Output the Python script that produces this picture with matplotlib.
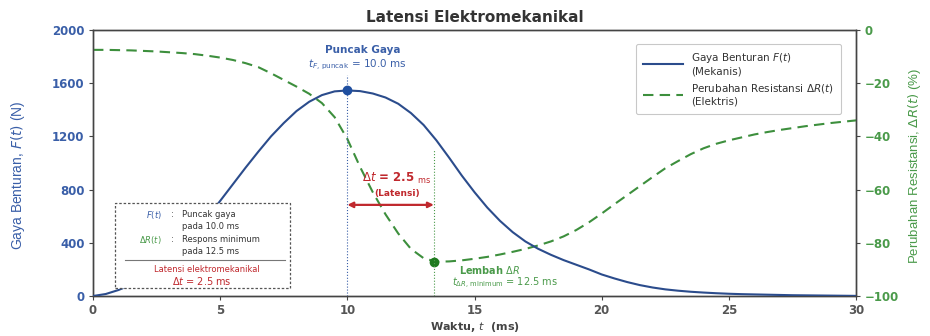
import matplotlib
matplotlib.use("Agg")
import matplotlib.pyplot as plt
from matplotlib.patches import Rectangle
from matplotlib.lines import Line2D

plt.rcParams['font.family'] = ['DejaVu Sans']
plt.rcParams['mathtext.fontset'] = 'dejavusans'

# ---- data ----
t_ms = [0.0, 0.5, 1.0, 1.5, 2.0, 2.5, 3.0, 3.5, 4.0, 4.5, 5.0, 5.5, 6.0, 6.5, 7.0, 7.5,
        8.0, 8.5, 9.0, 9.5, 10.0, 10.5, 11.0, 11.5, 12.0, 12.5, 13.0, 13.5, 14.0, 14.5,
        15.0, 15.5, 16.0, 16.5, 17.0, 17.5, 18.0, 18.5, 19.0, 19.5, 20.0, 20.5, 21.0,
        21.5, 22.0, 22.5, 23.0, 23.5, 24.0, 24.5, 25.0, 25.5, 26.0, 26.5, 27.0, 27.5,
        28.0, 28.5, 29.0, 29.5, 30.0]
force_N = [0, 15, 45, 85, 140, 205, 285, 375, 475, 590, 715, 840, 965, 1085, 1200, 1300,
           1390, 1460, 1510, 1538, 1545, 1540, 1522, 1492, 1445, 1375, 1285, 1170, 1040, 905,
           780, 665, 565, 480, 410, 355, 310, 270, 235, 200, 162, 132, 105,
           82, 64, 50, 40, 32, 26, 21, 17, 14, 12, 10, 8, 6,
           5, 4, 3, 2, 1]
dR_pct = [-7.5, -7.5, -7.6, -7.7, -7.9, -8.1, -8.4, -8.7, -9.1, -9.7, -10.4, -11.3, -12.5,
          -14.0, -16.3, -18.8, -21.3, -24.0, -27.5, -32.8, -41.0, -51.5, -61.0, -69.3,
          -76.5, -82.3, -85.8, -87.1, -87.0, -86.6, -86.0, -85.3, -84.4, -83.4, -82.3,
          -81.0, -79.5, -77.6, -75.2, -72.3, -69.0, -65.5, -62.1, -58.7, -55.3, -52.0,
          -49.3, -46.7, -44.5, -42.8, -41.5, -40.4, -39.3, -38.4, -37.6, -36.9, -36.2,
          -35.6, -35.0, -34.5, -34.0]
t_peak_F = 10.0
F_peak = 1545
t_min_R = 13.4
R_min = -87.1
arrow_level = 685

x_ticks = [0, 5, 10, 15, 20, 25, 30]
yL_ticks = [0, 400, 800, 1200, 1600, 2000]
yR_ticks = [0, -20, -40, -60, -80, -100]

BLUE = '#2b4c8c'
BLUE_T = '#3a5fa8'
GREEN = '#3d8f3d'
GREEN_T = '#4a9a4a'
RED = '#c0282d'
GRAY = '#555555'

fig = plt.figure(figsize=(9.3, 3.36), dpi=100)
ax = fig.add_axes([0.1, 0.119, 0.8205, 0.792])
ax2 = ax.twinx()

lF, = ax.plot(t_ms, force_N, color=BLUE, lw=1.5, zorder=4)
lR, = ax2.plot(t_ms, dR_pct, color=GREEN, lw=1.5, ls=(0, (5, 3)), zorder=3)

ax.set_xlim(0, 30)
ax.set_ylim(0, 2000)
ax2.set_ylim(-100, 0)
ax.set_xticks(x_ticks)
ax.set_yticks(yL_ticks)
ax2.set_yticks(yR_ticks)
ax2.set_yticklabels([str(v).replace('-', '\u2212') for v in yR_ticks])

for lab in ax.get_xticklabels():
    lab.set_color(GRAY); lab.set_fontweight('bold'); lab.set_fontsize(8.5)
for lab in ax.get_yticklabels():
    lab.set_color(BLUE_T); lab.set_fontweight('bold'); lab.set_fontsize(8.5)
for lab in ax2.get_yticklabels():
    lab.set_color(GREEN_T); lab.set_fontweight('bold'); lab.set_fontsize(8.5)
ax.tick_params(axis='both', length=3, width=0.8, color='#444444', pad=3)
ax2.tick_params(axis='y', length=3, width=0.8, color='#444444', pad=3)
for a in (ax, ax2):
    for s in a.spines.values():
        s.set_color('#444444'); s.set_linewidth(1.0)

ax.set_ylabel(r'Gaya Benturan, $F(t)$ (N)', color=BLUE_T, fontsize=10,
              family='Liberation Sans')
ax.yaxis.set_label_coords(-0.086, 0.455)
ax2.set_ylabel(r'Perubahan Resistansi, $\Delta R(t)$ (%)', color=GREEN_T, fontsize=9.5,
               family='Liberation Sans')
ax2.yaxis.set_label_coords(1.066, 0.49)
ax.set_xlabel(r'Waktu, $t$  (ms)', fontsize=8, fontweight='bold', color='#444444', labelpad=2)
ax.set_title('Latensi Elektromekanikal', fontsize=11, fontweight='bold',
             color='#333333', pad=6)

# vertical reference lines
ax.axvline(t_peak_F, ymin=0, ymax=0.83, color=BLUE_T, lw=0.8, ls=':', zorder=2)
ax.axvline(t_min_R, ymin=0, ymax=0.55, color=GREEN_T, lw=0.8, ls=':', zorder=2)

# markers
ax.plot([t_peak_F], [F_peak], 'o', color='#1f4fa0', ms=6, zorder=6)
ax2.plot([t_min_R], [R_min], 'o', color='#1e7a1e', ms=6, zorder=6)

# peak annotation
ax.text(10.6, 1850, 'Puncak Gaya', color=BLUE_T, fontsize=7.5, fontweight='bold',
        ha='center', va='center')
ax.text(10.4, 1737, r'$t_{F,\,\mathrm{puncak}}$ = 10.0 ms', color=BLUE_T, fontsize=7.5,
        ha='center', va='center')

# valley annotation
ax.text(15.6, 195, r'Lembah $\Delta R$', color=GREEN_T, fontsize=7, fontweight='bold',
        ha='center', va='center')
ax.text(16.2, 98, r'$t_{\Delta R,\,\mathrm{minimum}}$ = 12.5 ms', color=GREEN_T, fontsize=7,
        ha='center', va='center')

# latency arrow
ax.annotate('', xy=(t_min_R, arrow_level), xytext=(t_peak_F, arrow_level),
            arrowprops=dict(arrowstyle='<|-|>', color=RED, lw=1.6, mutation_scale=8,
                            shrinkA=0, shrinkB=0), zorder=7)
ax.text(11.95, 887, r'$\Delta t$ = 2.5 $_{\mathrm{ms}}$', color=RED, fontsize=8.5,
        fontweight='bold', ha='center', va='center')
ax.text(11.95, 774, '(Latensi)', color=RED, fontsize=6.5, fontweight='bold',
        ha='center', va='center')

# info box (lower left)
box = Rectangle((0.029, 0.030), 0.229, 0.320, transform=ax.transAxes, facecolor='white',
                edgecolor='#555555', lw=0.9, ls=(0, (2, 1.5)), zorder=8)
ax.add_patch(box)
fs = 6
ax.text(0.0904, 0.305, r'$F(t)$', transform=ax.transAxes, color=BLUE_T, fontsize=fs,
        ha='right', va='center', zorder=9)
ax.text(0.1035, 0.305, ':', transform=ax.transAxes, color='#333333', fontsize=fs,
        ha='center', va='center', zorder=9)
ax.text(0.1166, 0.305, 'Puncak gaya', transform=ax.transAxes, color='#333333', fontsize=fs,
        ha='left', va='center', zorder=9)
ax.text(0.1166, 0.263, 'pada 10.0 ms', transform=ax.transAxes, color='#333333', fontsize=fs,
        ha='left', va='center', zorder=9)
ax.text(0.0904, 0.211, r'$\Delta R(t)$', transform=ax.transAxes, color=GREEN_T, fontsize=fs,
        ha='right', va='center', zorder=9)
ax.text(0.1035, 0.211, ':', transform=ax.transAxes, color='#333333', fontsize=fs,
        ha='center', va='center', zorder=9)
ax.text(0.1166, 0.211, 'Respons minimum', transform=ax.transAxes, color='#333333',
        fontsize=fs, ha='left', va='center', zorder=9)
ax.text(0.1166, 0.167, 'pada 12.5 ms', transform=ax.transAxes, color='#333333', fontsize=fs,
        ha='left', va='center', zorder=9)
ax.add_line(Line2D([0.042, 0.252], [0.135, 0.135], transform=ax.transAxes,
                   color='#777777', lw=0.8, zorder=9))
ax.text(0.149, 0.100, 'Latensi elektromekanikal', transform=ax.transAxes, color=RED,
        fontsize=fs, ha='center', va='center', zorder=9)
ax.text(0.143, 0.056, r'$\Delta t$ = 2.5 ms', transform=ax.transAxes, color=RED,
        fontsize=7, ha='center', va='center', zorder=9)

# legend
leg = ax.legend([lF, lR], [r'Gaya Benturan $F(t)$' + '\n(Mekanis)',
                           r'Perubahan Resistansi $\Delta R(t)$' + '\n(Elektris)'],
                loc='upper right', bbox_to_anchor=(0.987, 0.967), fontsize=7.5,
                handlelength=3.8, handletextpad=0.8, frameon=True, fancybox=True,
                borderpad=0.7, labelspacing=0.5, edgecolor='#bbbbbb')
leg.set_zorder(10)
leg.get_frame().set_linewidth(0.8)
for txt in leg.get_texts():
    txt.set_color('#333333')

ax.set_zorder(ax2.get_zorder() + 1)
ax.patch.set_visible(False)

fig.savefig('out.png', dpi=100)
